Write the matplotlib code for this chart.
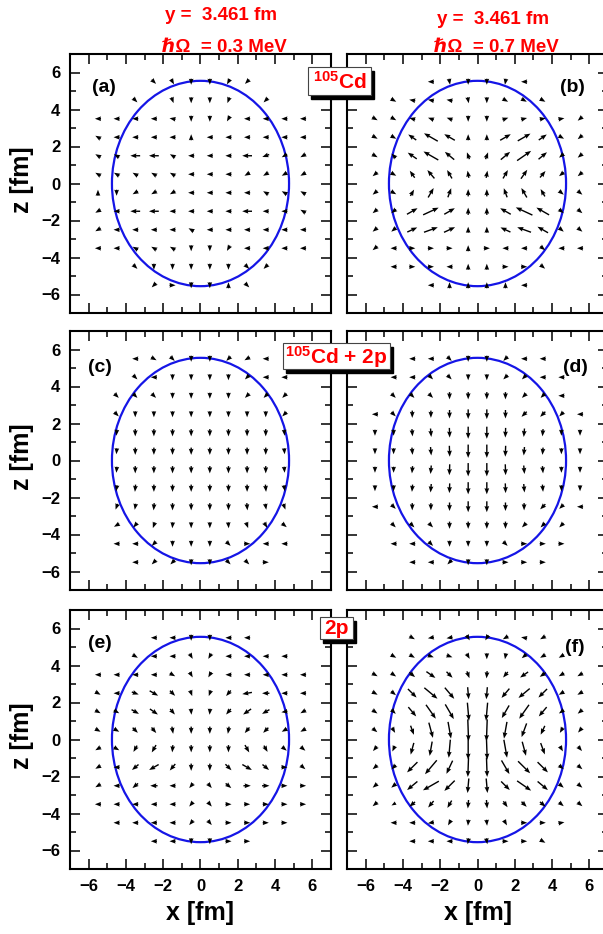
import numpy as np
import matplotlib
matplotlib.use('Agg')
import matplotlib.pyplot as plt
from matplotlib.patches import Ellipse, Rectangle

plt.rcParams['font.family'] = ['Liberation Sans', 'DejaVu Sans']
plt.rcParams['font.weight'] = 'bold'
plt.rcParams['mathtext.fontset'] = 'custom'
plt.rcParams['mathtext.rm'] = 'Liberation Sans:bold'
plt.rcParams['mathtext.bf'] = 'Liberation Sans:bold'
plt.rcParams['mathtext.it'] = 'Liberation Sans:bold:italic'
plt.rcParams['mathtext.default'] = 'bf'

W, H = 603, 934

# grid of the current field (fm), rows from top (z = 5.5) to bottom
x_grid = [-5.5, -4.5, -3.5, -2.5, -1.5, -0.5, 0.5, 1.5, 2.5, 3.5, 4.5, 5.5]
z_grid = [5.5, 4.5, 3.5, 2.5, 1.5, 0.5, -0.5, -1.5, -2.5, -3.5, -4.5, -5.5]

# nuclear surface (semi-axes in fm)
surf_ax = 4.75
surf_az = 5.55

# arrow directions (deg from +x) and lengths (px), 0 length = no arrow
ang_a = [
    [0, 0, 0, -45, -60, -90, -90, -120, -135, 0, 0, 0],
    [0, 0, -45, 0, -70, -90, -90, -110, 0, -135, 0, 0],
    [180, 180, 180, 180, 170, -90, -90, -120, 180, 180, 180, 180],
    [150, 180, 180, 180, 180, 90, 180, 180, 180, 180, 180, 180],
    [150, 150, 180, 180, 150, 180, 180, 180, 180, 200, 210, 210],
    [150, 150, 150, 150, 150, 180, 180, 180, 210, 210, 210, 210],
    [90, -90, 210, 210, 210, 180, 180, 180, 180, 150, 150, 150],
    [210, 180, 180, 180, 180, 180, 180, 180, 180, 180, 180, 150],
    [210, 180, 180, 180, 180, 150, 180, 180, 180, 180, 180, 180],
    [180, 180, 150, 150, 150, -90, -90, -120, 180, 180, 180, 180],
    [0, 0, -45, -90, -90, -90, -90, -90, -45, -135, 0, 0],
    [0, 0, 0, -135, 0, -90, -90, 90, -45, 0, 0, 0],
]
len_a = [
    [0, 0, 0, 5, 5, 5, 5, 5, 5, 0, 0, 0],
    [0, 0, 5, 0, 5, 5, 5, 5, 0, 5, 0, 0],
    [5, 5, 5, 5, 5, 5, 5, 5, 5, 5, 5, 5],
    [5, 5, 5, 5, 5, 5, 5, 5, 5, 5, 5, 5],
    [5, 5, 8, 8, 5, 5, 5, 5, 8, 6, 5, 5],
    [5, 5, 5, 5, 5, 5, 5, 5, 5, 5, 5, 5],
    [5, 5, 5, 5, 5, 5, 5, 5, 5, 5, 5, 5],
    [5, 5, 8, 8, 5, 5, 5, 5, 8, 5, 5, 5],
    [5, 5, 5, 5, 5, 5, 5, 5, 5, 5, 5, 5],
    [5, 5, 5, 5, 5, 5, 5, 5, 5, 5, 5, 5],
    [0, 0, 5, 5, 5, 5, 5, 5, 5, 5, 0, 0],
    [0, 0, 0, 5, 5, 5, 5, 5, 5, 0, 0, 0],
]

ang_b = [
    [0, 0, 0, 180, -80, -90, -90, -100, 180, 0, 0, 0],
    [0, -30, 170, 170, 170, -80, -90, -30, -30, -30, 0, 0],
    [-30, -30, 165, 160, 160, -90, -90, 20, 15, 10, 10, -140],
    [-30, -30, 145, 150, 150, 90, 90, 30, 30, 35, -30, -140],
    [-30, 135, 145, 150, 140, 110, 70, 40, 35, 40, -140, -140],
    [-140, -30, 125, 130, 120, 100, 80, 60, 55, 50, -140, -140],
    [-140, -30, 60, 60, 70, 90, 90, 110, 120, 120, -40, -40],
    [-140, -140, 30, 25, 30, 90, 90, 150, 155, 150, -40, -40],
    [-140, -140, 25, 20, 25, 90, 90, 155, 160, 150, -40, -40],
    [-140, 180, 0, 0, 0, 90, 0, 180, 180, -40, 180, 180],
    [0, 180, 0, 0, 180, 90, 90, 0, 0, -40, 0, 0],
    [0, 0, 0, 180, 90, 90, 90, 90, 180, 0, 0, 0],
]
len_b = [
    [0, 0, 0, 5, 5, 5, 5, 5, 5, 0, 0, 0],
    [0, 5, 5, 5, 5, 5, 5, 5, 5, 5, 0, 0],
    [5, 5, 5, 5, 5, 5, 5, 5, 5, 5, 5, 5],
    [5, 5, 8, 13, 10, 5, 5, 10, 12, 8, 5, 5],
    [5, 5, 9, 14, 10, 6, 6, 10, 14, 9, 5, 5],
    [5, 5, 7, 9, 8, 6, 6, 8, 9, 7, 5, 5],
    [5, 5, 6, 9, 8, 6, 6, 8, 9, 7, 5, 5],
    [5, 5, 10, 14, 10, 6, 6, 10, 15, 12, 5, 5],
    [5, 5, 9, 12, 10, 5, 5, 9, 12, 10, 5, 5],
    [5, 5, 5, 5, 5, 5, 5, 5, 5, 5, 5, 5],
    [0, 5, 5, 5, 5, 5, 5, 5, 5, 5, 0, 0],
    [0, 0, 0, 5, 5, 5, 5, 5, 5, 0, 0, 0],
]

ang_c = [
    [0, 0, 180, -30, -45, -90, -90, -135, -150, 180, 0, 0],
    [0, 0, -45, 180, -90, -90, -90, -90, -135, 180, 180, 0],
    [0, -45, -45, -45, -90, -90, -90, -90, -135, -135, -135, 0],
    [0, -45, -90, -90, -90, -90, -90, -90, -90, -90, -135, 0],
    [0, -95, -90, -90, -90, -90, -90, -90, -90, -90, -85, 0],
    [0, -95, -90, -90, -90, -90, -90, -90, -90, -90, -85, 0],
    [0, -95, -90, -90, -90, -90, -90, -90, -90, -90, -85, 0],
    [0, -100, -95, -90, -90, -90, -90, -90, -90, -85, -80, 0],
    [0, -110, -100, -95, -90, -90, -90, -90, -85, -80, -70, 0],
    [0, -150, -130, -110, -95, -90, -90, -85, -70, -60, -40, 0],
    [0, 180, 180, -135, -90, -90, -90, -45, 0, 180, 180, 0],
    [0, 0, 180, -135, -135, -90, -90, -45, -45, 0, 0, 0],
]
len_c = [
    [0, 0, 5, 5, 5, 5, 5, 5, 5, 5, 0, 0],
    [0, 0, 5, 5, 5, 5, 5, 5, 5, 5, 5, 0],
    [0, 5, 5, 5, 5, 5, 5, 5, 5, 5, 5, 0],
    [0, 5, 5, 5, 5, 5, 5, 5, 5, 5, 5, 0],
    [0, 5, 6, 6, 6, 6, 6, 6, 6, 6, 5, 0],
    [0, 5, 6, 6, 6, 6, 6, 6, 6, 6, 5, 0],
    [0, 5, 6, 6, 6, 6, 6, 6, 6, 6, 5, 0],
    [0, 5, 6, 6, 6, 6, 6, 6, 6, 6, 5, 0],
    [0, 5, 5, 6, 6, 6, 6, 6, 6, 5, 5, 0],
    [0, 5, 5, 5, 5, 5, 5, 5, 5, 5, 5, 0],
    [0, 5, 5, 5, 5, 5, 5, 5, 5, 5, 5, 0],
    [0, 0, 5, 5, 5, 5, 5, 5, 5, 5, 0, 0],
]

ang_d = [
    [0, 0, 180, 180, -45, -90, -90, -135, 180, 180, 0, 0],
    [0, 180, 180, -45, -45, -90, -90, -135, -135, 180, 180, 0],
    [0, -45, -45, -45, -90, -90, -90, -90, -135, -135, 180, 0],
    [180, -45, -90, -90, -90, -90, -90, -90, -135, -135, -135, 180],
    [-90, -90, -85, -85, -88, -90, -90, -92, -95, -95, -90, -90],
    [-90, -90, -85, -85, -88, -90, -90, -92, -95, -95, -90, -90],
    [-90, -90, -95, -95, -92, -90, -90, -88, -85, -85, -90, -90],
    [-90, -90, -95, -95, -92, -90, -90, -88, -85, -85, -90, -90],
    [180, -45, -90, -90, -90, -90, -90, -90, -90, -135, -135, 180],
    [0, -45, -45, -45, -90, -90, -90, -90, -135, -135, -135, 0],
    [0, 180, 180, -45, -90, -90, -90, -45, 0, 0, 0, 0],
    [0, 0, 180, 180, -135, -90, -90, 0, 0, 0, 0, 0],
]
len_d = [
    [0, 0, 5, 5, 5, 5, 5, 5, 5, 5, 0, 0],
    [0, 5, 5, 5, 5, 5, 5, 5, 5, 5, 5, 0],
    [0, 5, 5, 5, 6, 6, 6, 6, 5, 5, 5, 0],
    [5, 5, 6, 6, 7, 8, 8, 7, 6, 6, 5, 5],
    [5, 5, 6, 7, 8, 10, 10, 8, 7, 6, 5, 5],
    [5, 5, 6, 7, 9, 11, 11, 9, 7, 6, 5, 5],
    [5, 5, 6, 7, 9, 11, 11, 9, 7, 6, 5, 5],
    [5, 5, 6, 7, 8, 10, 10, 8, 7, 6, 5, 5],
    [5, 5, 6, 6, 7, 9, 9, 7, 6, 6, 5, 5],
    [0, 5, 5, 5, 6, 6, 6, 6, 5, 5, 5, 0],
    [0, 5, 5, 5, 5, 5, 5, 5, 5, 5, 5, 0],
    [0, 0, 5, 5, 5, 5, 5, 5, 5, 5, 0, 0],
]

ang_e = [
    [0, 0, 0, 180, 180, -90, -90, 180, 180, 0, 0, 0],
    [0, 0, -30, 180, 180, -60, -120, 180, 180, 180, 180, 0],
    [180, 180, 180, 180, -30, -60, -120, 180, 180, 180, 180, 180],
    [-30, 180, -20, -30, -45, -70, -110, -130, 190, 180, 180, 180],
    [-30, -30, -30, -35, -50, -85, -95, -130, -145, -150, 190, -150],
    [-30, -30, -45, -50, -80, -90, -90, -100, -130, -135, -150, -150],
    [-150, -30, -120, -120, -95, -90, -90, -90, -60, -60, -40, -40],
    [-150, 180, -140, -150, -130, -90, -90, -45, -30, -40, 0, -40],
    [-150, 180, -140, 180, 180, -130, -50, -40, 0, 0, 0, 0],
    [180, 180, 180, 180, 180, -130, -50, 0, 0, 0, 0, 0],
    [0, 180, 180, 180, 180, -130, -50, 0, 0, 0, 0, 0],
    [0, 0, 0, 180, 180, -90, -90, 0, 0, 0, 0, 0],
]
len_e = [
    [0, 0, 0, 5, 5, 5, 5, 5, 5, 0, 0, 0],
    [0, 0, 5, 5, 5, 5, 5, 5, 5, 5, 5, 0],
    [5, 5, 5, 5, 5, 5, 5, 5, 5, 5, 5, 5],
    [5, 5, 6, 8, 6, 5, 5, 6, 8, 6, 5, 5],
    [5, 5, 7, 8, 6, 5, 5, 6, 8, 7, 5, 5],
    [5, 5, 6, 6, 6, 6, 6, 6, 6, 6, 5, 5],
    [5, 5, 6, 7, 6, 6, 6, 6, 7, 6, 5, 5],
    [5, 5, 7, 9, 7, 6, 6, 7, 9, 7, 5, 5],
    [5, 5, 6, 6, 5, 5, 5, 6, 6, 6, 5, 5],
    [5, 5, 5, 5, 5, 5, 5, 5, 5, 5, 5, 5],
    [0, 5, 5, 5, 5, 5, 5, 5, 5, 5, 5, 0],
    [0, 0, 0, 5, 5, 5, 5, 5, 5, 0, 0, 0],
]

ang_f = [
    [0, 0, -30, 190, 190, -60, -120, -150, 170, -150, 0, 0],
    [0, -30, -30, -20, -20, -60, -90, -100, -140, -150, -150, 0],
    [-30, -35, -40, -35, -45, -70, -95, -130, -145, -145, -150, -150],
    [-30, -40, -45, -40, -50, -85, -95, -130, -140, -135, -150, -150],
    [-35, -45, -50, -55, -60, -85, -95, -120, -125, -130, -145, -140],
    [-40, -60, -70, -75, -80, -88, -92, -100, -110, -115, -120, -130],
    [-130, -115, -105, -100, -95, -90, -88, -80, -75, -70, -60, -50],
    [-140, -135, -135, -130, -115, -92, -88, -60, -45, -45, -40, -40],
    [-140, -140, -140, -150, -135, -95, -85, -45, -35, -40, -40, -40],
    [-140, -150, -140, -130, -120, -95, -85, -55, -45, -40, -40, -40],
    [0, 180, 180, 190, -120, -95, -85, -60, 0, 0, 10, 0],
    [0, 0, 180, 180, 180, -100, -80, 0, 0, -30, 0, 0],
]
len_f = [
    [0, 0, 5, 5, 5, 5, 5, 5, 5, 5, 0, 0],
    [0, 5, 5, 5, 5, 5, 5, 5, 5, 5, 5, 0],
    [5, 5, 6, 9, 7, 6, 6, 6, 8, 6, 5, 5],
    [5, 5, 10, 14, 12, 10, 10, 10, 12, 10, 5, 5],
    [5, 5, 10, 14, 14, 15, 15, 12, 14, 10, 5, 5],
    [5, 5, 8, 13, 14, 18, 18, 14, 12, 8, 5, 5],
    [5, 5, 10, 12, 15, 18, 18, 15, 12, 10, 5, 5],
    [5, 5, 12, 15, 12, 16, 16, 13, 14, 12, 5, 5],
    [5, 5, 11, 15, 12, 12, 12, 10, 14, 11, 5, 5],
    [5, 4, 6, 7, 7, 7, 7, 6, 6, 6, 5, 5],
    [0, 5, 5, 5, 5, 5, 5, 5, 5, 5, 5, 0],
    [0, 0, 5, 5, 5, 5, 5, 5, 5, 5, 0, 0],
]

panels = [
    ('(a)', ang_a, len_a, (-5.2, 5.2)),
    ('(b)', ang_b, len_b, (5.1, 5.2)),
    ('(c)', ang_c, len_c, (-5.4, 5.05)),
    ('(d)', ang_d, len_d, (5.25, 5.0)),
    ('(e)', ang_e, len_e, (-5.4, 5.2)),
    ('(f)', ang_f, len_f, (5.2, 5.0)),
]

row_tops = [54, 331, 610]
col_lefts = [70, 347]
ax_w, ax_h = 261, 259
px_per_fm = 18.6


def fig_rect(left, top, w, h):
    return [left / W, 1 - (top + h) / H, w / W, h / H]


fig = plt.figure(figsize=(W / 100, H / 100), dpi=100)

X, Z = np.meshgrid(x_grid, z_grid)

for k, (tag, ang, length, tag_pos) in enumerate(panels):
    r, c = divmod(k, 2)
    ax = fig.add_axes(fig_rect(col_lefts[c], row_tops[r], ax_w, ax_h))

    a = np.radians(np.array(ang, dtype=float))
    L = np.array(length, dtype=float) / px_per_fm
    U = L * np.cos(a)
    V = L * np.sin(a)
    m = L > 0
    ax.quiver(X[m], Z[m], U[m], V[m], angles='xy', scale_units='xy', scale=0.82,
              pivot='middle', units='dots', width=1.4, headwidth=3.4,
              headlength=4.4, headaxislength=4.0, minshaft=1.0, minlength=0.3,
              color='black', zorder=3)

    ax.add_patch(Ellipse((0, 0), 2 * surf_ax, 2 * surf_az, fill=False,
                         edgecolor='#1515e6', lw=1.6, zorder=2))

    ax.set_xlim(-7, 7)
    ax.set_ylim(-7, 7)
    ax.set_xticks([-6, -4, -2, 0, 2, 4, 6])
    ax.set_yticks([-6, -4, -2, 0, 2, 4, 6])
    ax.set_xticks(np.arange(-7, 8, 1), minor=True)
    ax.set_yticks(np.arange(-7, 8, 1), minor=True)
    ax.tick_params(which='both', direction='in', top=True, right=True,
                   labelsize=12, width=1.1)
    ax.tick_params(which='major', length=7.5)
    ax.tick_params(which='minor', length=4.3)
    ax.tick_params(axis='x', pad=7.5)
    ax.tick_params(axis='y', pad=7)
    for s in ax.spines.values():
        s.set_linewidth(1.5)
    if c == 1:
        ax.tick_params(labelleft=False)
    if r < 2:
        ax.tick_params(labelbottom=False)

    ax.text(tag_pos[0], tag_pos[1], tag, fontsize=14, fontweight='bold',
            ha='center', va='center')

# axis titles
for r in range(3):
    fig.text(22 / W, 1 - (row_tops[r] + ax_h / 2 - 4) / H, 'z [fm]',
             rotation=90, ha='center', va='center', fontsize=18)
for c in range(2):
    fig.text((col_lefts[c] + ax_w / 2) / W, 1 - 913 / H, 'x [fm]',
             ha='center', va='center', fontsize=18)

# headers
fig.text(221 / W, 1 - 16 / H, 'y =  3.461 fm', color='red', ha='center',
         va='center', fontsize=13.5)
fig.text(224 / W, 1 - 47 / H, '\u210f\u03a9  = 0.3 MeV', color='red',
         ha='center', va='center', fontsize=13.5)
fig.text(493 / W, 1 - 19 / H, 'y =  3.461 fm', color='red', ha='center',
         va='center', fontsize=13.5)
fig.text(496 / W, 1 - 47 / H, '\u210f\u03a9  = 0.7 MeV', color='red',
         ha='center', va='center', fontsize=13.5)

# boxed labels with shadow: (left, top, right, bottom) in px
boxes = [
    (r'$^{105}$Cd', (308, 67, 371, 95)),
    (r'$^{105}$Cd + 2p', (283, 343, 390, 369)),
    ('2p', (320, 617, 353, 639)),
]
for label, (l, t, rgt, b) in boxes:
    fig.add_artist(Rectangle(((l + 3) / W, 1 - (b + 4) / H), (rgt - l) / W,
                             (b - t) / H, transform=fig.transFigure,
                             facecolor='black', edgecolor='black', zorder=5))
    fig.add_artist(Rectangle((l / W, 1 - b / H), (rgt - l) / W, (b - t) / H,
                             transform=fig.transFigure, facecolor='white',
                             edgecolor='#444444', lw=0.8, zorder=6))
    fig.text((l + rgt) / 2 / W, 1 - ((t + b) / 2 + 1) / H, label, color='red',
             ha='center', va='center', fontsize=15, zorder=7)

fig.savefig('out.png', dpi=100)
